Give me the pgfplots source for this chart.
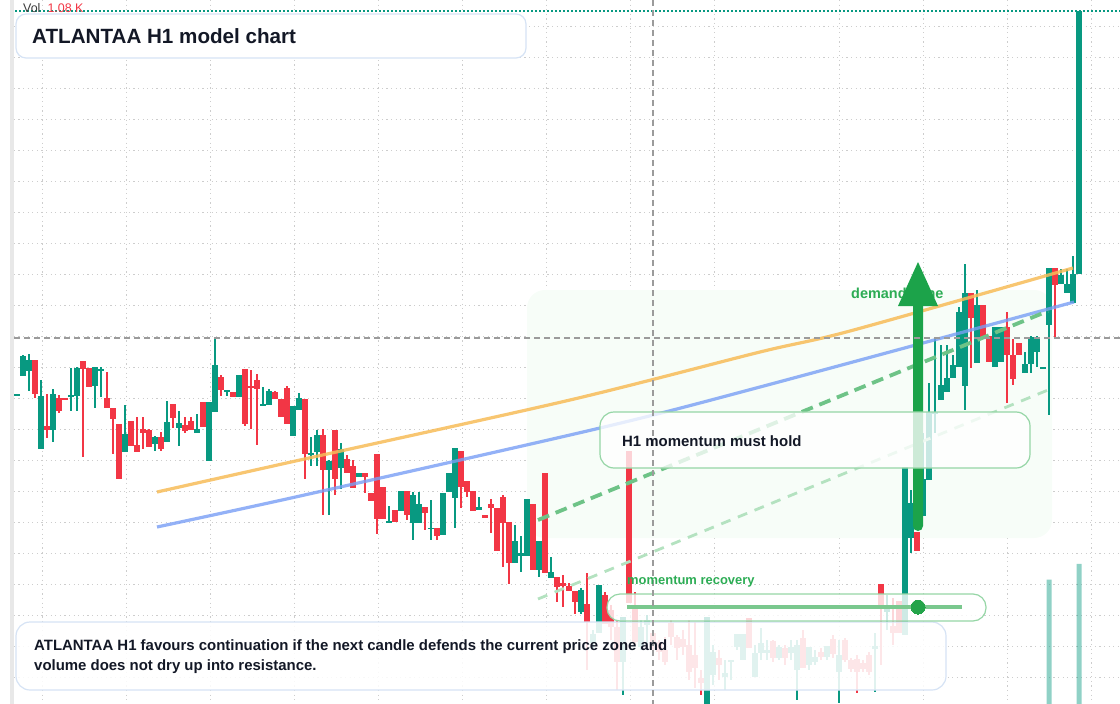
\documentclass[border=0pt]{standalone}
\usepackage{pgfplots}
\pgfplotsset{compat=1.18}
\usepackage{pgfplotstable}
\usepackage{fontspec}
\setmainfont{Liberation Sans}

\definecolor{upc}{RGB}{8,153,129}
\definecolor{dnc}{RGB}{242,54,69}
\definecolor{gridc}{RGB}{205,205,205}
\definecolor{stripc}{RGB}{232,232,232}
\definecolor{zonec}{RGB}{247,253,248}
\definecolor{orangec}{RGB}{247,188,88}
\definecolor{bluec}{RGB}{120,158,245}
\definecolor{dgreen}{RGB}{110,195,135}
\definecolor{lgreen}{RGB}{180,226,192}
\definecolor{arrowc}{RGB}{28,163,74}
\definecolor{txtgreen}{RGB}{44,172,84}
\definecolor{boxbl}{RGB}{214,227,245}
\definecolor{boxgr}{RGB}{150,214,166}
\definecolor{pilll}{RGB}{122,200,142}
\definecolor{dotc}{RGB}{36,164,74}
\definecolor{darktxt}{RGB}{19,24,38}
\definecolor{volc}{RGB}{60,60,60}
\definecolor{crossc}{RGB}{155,155,155}

% candles: i = bar index, o h l c in chart units (larger = lower on chart)
\pgfplotstableread{
i o h l c
0 395 394 395 394
1 376 355 376 356
2 371 354 391 360
4 449 380 449 396
6 430 389 442 394
9 396 368 411 395
10 396 367 411 368
13 386 367 408 367
14 371 367 397 369
18 452 405 452 434
23 444 436 451 437
25 442 401 442 422
27 428 411 446 423
30 433 414 433 429
32 461 402 461 402
33 412 338 412 365
35 391 390 396 390
37 397 375 397 375
41 405 387 405 404
42 405 389 405 391
46 436 406 436 406
47 410 393 410 398
49 454 437 466 453
50 452 430 466 435
52 470 460 515 461
54 468 443 489 449
57 477 473 477 473
62 522 506 522 521
64 511 491 511 491
66 523 492 540 495
67 523 492 523 504
69 529 500 540 528
71 535 493 535 493
72 492 473 492 473
73 498 448 528 448
77 510 497 510 507
83 563 525 563 541
84 556 536 572 553
85 556 499 556 499
87 570 541 577 541
89 578 557 578 572
94 612 588 614 590
96 643 630 650 634
97 633 585 633 585
101 662 617 695 617
104 647 620 650 627
105 625 615 650 620
115 708 617 708 617
116 675 645 685 652
118 677 660 690 673
119 662 660 680 660
120 647 634 650 634
121 660 634 660 634
123 677 645 677 653
124 653 628 660 643
125 653 640 660 650
127 658 645 660 647
129 653 640 660 647
130 670 640 700 645
132 665 647 670 647
133 662 650 665 657
135 657 646 660 646
137 672 640 703 655
143 649 633 692 646
145 612 595 630 608
148 635 467 635 467
149 538 490 553 503
151 516 433 516 479
152 480 383 480 412
153 414 337 433 412
154 400 345 400 385
155 392 345 392 378
156 378 355 378 365
157 367 307 367 312
158 386 264 410 293
160 363 290 363 305
163 367 327 367 327
164 362 327 362 327
168 373 352 373 364
169 364 336 373 337
170 352 336 367 338
171 368 367 368 367
172 325 268 415 268
174 284 269 284 275
175 293 269 293 284
176 303 256 303 274
177 274 11 274 11
}\upcandles

\pgfplotstableread{
i o h l c
3 360 360 398 394
5 426 394 438 430
7 398 395 413 411
8 398 398 400 400
11 361 361 457 369
12 368 368 387 387
15 398 372 408 408
16 408 408 454 419
17 424 424 479 479
19 421 421 446 446
20 445 417 452 452
21 429 417 449 433
22 430 429 447 447
24 437 432 451 449
26 404 404 428 418
28 425 417 433 431
29 421 417 430 430
31 402 402 427 427
34 377 375 396 390
36 392 392 397 397
38 369 369 426 424
39 386 370 429 387
40 380 374 445 389
43 392 391 399 399
44 399 399 417 417
45 388 386 424 424
48 399 399 479 454
51 435 429 515 470
53 430 430 495 479
55 459 455 473 473
56 466 460 488 488
58 473 473 493 477
59 493 493 501 501
60 454 454 534 519
61 487 487 519 519
63 510 510 522 522
65 491 491 520 515
68 507 507 530 513
70 528 528 540 536
74 451 451 508 487
75 481 481 497 492
76 491 491 511 511
78 515 515 518 518
79 504 499 533 508
80 508 508 551 551
81 497 495 567 523
82 522 522 584 563
86 504 504 570 570
88 473 473 573 573
90 577 577 602 587
91 583 575 607 586
92 586 583 591 591
93 591 591 614 602
95 604 573 670 622
98 595 592 624 624
99 610 605 640 627
100 627 620 690 662
102 451 451 603 603
103 607 592 645 642
106 633 630 650 642
107 642 640 660 652
108 650 637 665 662
109 623 620 645 637
110 637 635 660 648
111 639 630 655 647
112 645 620 680 672
113 655 622 688 668
114 678 670 695 683
117 658 650 680 665
122 618 618 648 648
126 641 640 662 658
128 648 645 665 658
131 638 630 668 668
134 652 648 660 657
136 639 635 658 654
138 640 638 662 660
139 660 658 672 669
140 659 655 693 672
141 663 660 672 669
142 655 652 675 672
144 584 584 665 608
146 626 598 645 633
147 601 601 633 633
150 532 532 551 551
159 293 293 368 318
161 305 305 337 337
162 336 336 362 362
165 327 312 403 355
166 355 339 385 379
167 343 343 355 355
173 268 268 337 285
}\dncandles

\pgfplotstableread{
i v
172 0.96
177 1.08
}\volumes

\begin{document}
\begin{tikzpicture}
\begin{axis}[
  at={(0,0)}, anchor=south west,
  scale only axis, width=1120bp, height=704bp,
  xmin=0, xmax=1120, ymin=0, ymax=704, y dir=reverse,
  axis line style={draw=none},
  xtick={42,126,210,294,378,462,546,630,714,839,923,1007,1091},
  ytick={26,57,...,677},
  xticklabels={}, yticklabels={},
  major tick length=0pt,
  grid=major,
  major grid style={draw=gridc, line width=0.9bp, dash pattern=on 1.2bp off 3.4bp},
]
% left strip
\fill[white] (axis cs:0,0) rectangle (axis cs:10,704);
\fill[stripc] (axis cs:10,0) rectangle (axis cs:14,704);
% demand zone
\fill[zonec, rounded corners=18bp] (axis cs:527,290) rectangle (axis cs:1052,538);
\node[anchor=west, inner sep=0pt, text=txtgreen, font=\fontsize{14.5}{17}\selectfont\bfseries] at (axis cs:851,293) {demand zone};
% last price line
\draw[upc, line width=1.2bp, dash pattern=on 1.5bp off 2.5bp] (axis cs:15,11) -- (axis cs:1120,11);

% wicks
\addplot[draw=none, mark=none, forget plot, error bars/.cd, y dir=both, y explicit, error mark=none,
  error bar style={draw=upc, line width=1.1bp}]
  table[x expr=17+6*\thisrow{i}, y expr=(\thisrow{h}+\thisrow{l})/2, y error expr=(\thisrow{l}-\thisrow{h})/2] {\upcandles};
\addplot[draw=none, mark=none, forget plot, error bars/.cd, y dir=both, y explicit, error mark=none,
  error bar style={draw=dnc, line width=1.1bp}]
  table[x expr=17+6*\thisrow{i}, y expr=(\thisrow{h}+\thisrow{l})/2, y error expr=(\thisrow{l}-\thisrow{h})/2] {\dncandles};
% bodies
\addplot[draw=none, mark=none, forget plot, error bars/.cd, y dir=both, y explicit, error mark=none,
  error bar style={draw=upc, line width=5.2bp}]
  table[x expr=17+6*\thisrow{i}, y expr=(\thisrow{o}+\thisrow{c})/2, y error expr={max(abs(\thisrow{o}-\thisrow{c})/2,0.6)}] {\upcandles};
\addplot[draw=none, mark=none, forget plot, error bars/.cd, y dir=both, y explicit, error mark=none,
  error bar style={draw=dnc, line width=5.2bp}]
  table[x expr=17+6*\thisrow{i}, y expr=(\thisrow{o}+\thisrow{c})/2, y error expr={max(abs(\thisrow{o}-\thisrow{c})/2,0.6)}] {\dncandles};

% trend lines
\addplot[orangec, line width=3.2bp, opacity=0.85, smooth, mark=none] coordinates {(157,492) (300,460) (570,400) (760,352) (850,331) (1073,268)};
\addplot[bluec, line width=3.2bp, opacity=0.8, smooth, mark=none] coordinates {(157,527) (300,496) (600,428) (760,387) (1074,302)};
\addplot[dgreen, line width=3.8bp, dash pattern=on 12bp off 7bp, mark=none] coordinates {(538,520) (1048,311)};
\addplot[lgreen, line width=2.8bp, dash pattern=on 10bp off 8bp, mark=none] coordinates {(538,599) (1048,390)};

% arrow
\fill[arrowc, rounded corners=5bp] (axis cs:913,300) rectangle (axis cs:923,531);
\fill[arrowc] (axis cs:898,306) -- (axis cs:918,262) -- (axis cs:938,306) -- cycle;

% boxes
\filldraw[fill=white, draw=boxbl, line width=1.2bp, rounded corners=10bp] (axis cs:16,14) rectangle (axis cs:526,58);
\filldraw[fill=white, fill opacity=0.88, draw=boxbl, line width=1.2bp, rounded corners=14bp] (axis cs:16,622) rectangle (axis cs:946,690);
\filldraw[fill=white, fill opacity=0.78, draw=boxgr, line width=1.2bp, rounded corners=14bp] (axis cs:600,412) rectangle (axis cs:1030,468);
\filldraw[fill=white, fill opacity=0.8, draw=boxgr, line width=1.2bp, rounded corners=13bp] (axis cs:607,594) rectangle (axis cs:986,621);
\addplot[pilll, line width=3.4bp, mark=none] coordinates {(627,607) (962,607)};
\addplot[only marks, mark=*, mark size=7bp, mark options={fill=dotc, draw=dotc, line width=0pt}] coordinates {(918,607)};

% crosshair
\draw[crossc, line width=1.1bp, dash pattern=on 6bp off 4bp] (axis cs:14,338) -- (axis cs:1120,338);
\draw[crossc, line width=1.1bp, dash pattern=on 6bp off 4bp] (axis cs:653,0) -- (axis cs:653,704);

% texts
\node[anchor=west, inner sep=0pt, text=darktxt, font=\fontsize{20.7}{24}\selectfont\bfseries] at (axis cs:32,36) {ATLANTAA H1 model chart};
\node[anchor=west, inner sep=0pt, text=darktxt, font=\fontsize{15}{18}\selectfont\bfseries] at (axis cs:622,441) {H1 momentum must hold};
\node[anchor=west, inner sep=0pt, text=txtgreen, font=\fontsize{13}{16}\selectfont\bfseries] at (axis cs:627,582) {momentum recovery};
\node[anchor=west, inner sep=0pt, text=darktxt, font=\fontsize{15}{18}\selectfont\bfseries] at (axis cs:34,647) {ATLANTAA H1 favours continuation if the next candle defends the current price zone and};
\node[anchor=west, inner sep=0pt, text=darktxt, font=\fontsize{15}{18}\selectfont\bfseries] at (axis cs:34,667) {volume does not dry up into resistance.};
\node[anchor=west, inner sep=0pt, font=\fontsize{12.5}{14}\selectfont] at (axis cs:23,8) {\textcolor{volc}{Vol}\hspace{7bp}\textcolor{dnc}{1.08 K}};
\end{axis}

% volume panel
\begin{axis}[
  at={(0,0)}, anchor=south west,
  scale only axis, width=1120bp, height=704bp,
  xmin=0, xmax=1120, ymin=0, ymax=5.43,
  hide axis, ybar, bar width=5bp,
]
\addplot[fill=upc, fill opacity=0.45, draw=none] table[x expr=17+6*\thisrow{i}, y=v] {\volumes};
\end{axis}
\pgfresetboundingbox
\path[use as bounding box] (0,0) rectangle (1120bp,704bp);
\end{tikzpicture}
\end{document}
